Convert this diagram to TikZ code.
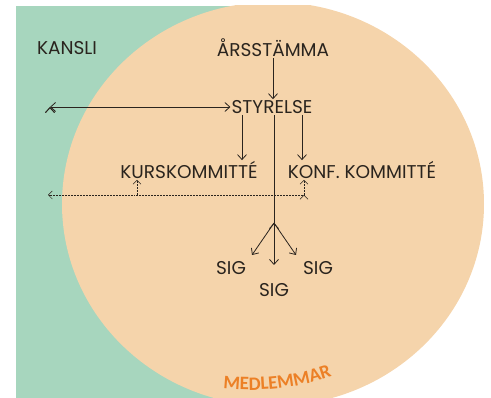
\documentclass[tikz,border=0pt]{standalone}
\usepackage{fontspec}
\setmainfont{Poppins}
\newfontfamily\medfont{Carlito}
\usepackage{tikz}
\usetikzlibrary{arrows.meta,decorations.text}

\definecolor{kansligreen}{RGB}{167,214,190}
\definecolor{medlem}{RGB}{245,212,171}
\definecolor{medtext}{RGB}{236,128,38}
\definecolor{ink}{RGB}{42,36,30}

\tikzset{
  org/.style={inner sep=1pt,text=ink},
  link/.style={draw=ink,line width=0.8pt}
}

\begin{document}
\begin{tikzpicture}[x=1pt,y=1pt,font=\fontsize{18.5}{20}\selectfont]
\useasboundingbox (0,0) rectangle (491,-398);
% bakgrund
\fill[kansligreen] (16,-6) rectangle (273,-398);
\begin{scope}
  \clip (16,-6) rectangle (491,-398);
  \fill[medlem] (273,-204) ellipse [x radius=211, y radius=202];
\end{scope}

\node[org]   (kansli) at (67,-48)   {KANSLI};
  \node[org] (arsst)  at (273,-48)  {ÅRSSTÄMMA};
  \node[org] (styr)   at (272,-107) {STYRELSE};
  \node[org] (kurs)   at (189,-170) {KURSKOMMITTÉ};
  \node[org] (konf)   at (362,-170) {KONF. KOMMITTÉ};
  \node[org] (sigL)   at (231,-268) {SIG};
  \node[org] (sigR)   at (318,-268) {SIG};
  \node[org] (sigM)   at (274,-290) {SIG};

\coordinate (kansliEnd) at (50,-107);
\coordinate (fork)      at (274,-223);
\coordinate (sigLtip)   at (252,-255);
\coordinate (sigRtip)   at (296,-255);
\coordinate (sigMtip)   at (274,-265);
\coordinate (dotR)      at (304,-195);
\coordinate (dotK)      at (137,-195);
\coordinate (dotL)      at (48,-195);

  \path[link,->,>={Straight Barb[length=5pt,width=9pt]}]
        (arsst.south) edge (arsst.south |- styr.north)
        ([xshift=-30pt]styr.south) edge ([xshift=-30pt]styr.south |- kurs.north)
        ([xshift=30pt]styr.south) edge ([xshift=30pt]styr.south |- konf.north)
        (fork) edge (sigLtip)
        (fork) edge (sigMtip)
        (fork) edge (sigRtip);
  \path[link,<->,>={Straight Barb[length=5pt,width=9pt]}]
        (kansliEnd) edge (styr.west);
  \draw[link] ([xshift=2pt]styr.south) -- (fork);

  \path[link,line width=0.5pt,densely dotted,->,>={Straight Barb[length=4pt,width=8pt]}]
        (dotR) edge (dotL)
        (dotK) edge (dotK |- kurs.south)
        (dotR) edge (dotR |- konf.south);

% medlemmar
\path[decorate,decoration={text along path,text align=center,
      text={|\medfont\bfseries\fontsize{19}{19}\selectfont\color{medtext}|MEDLEMMAR}}]
      (250,-140) ++(-101:250) arc[start angle=-101, end angle=-66, radius=250];
\end{tikzpicture}
\end{document}
